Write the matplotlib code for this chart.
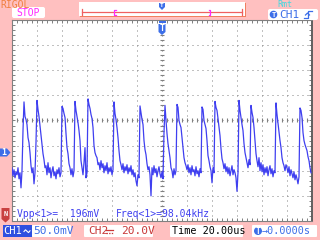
import numpy as np
import matplotlib
matplotlib.use("Agg")
import matplotlib.pyplot as plt
from matplotlib.patches import FancyBboxPatch, Polygon, Rectangle, Circle

plt.rcParams["lines.scale_dashes"] = False

# CH1 samples in mV, one per screen column (0.8 us apart)
ch1_mv = [
    -30, -46, -34, -50, -38, -44, -30, -52, -40, -70, -36,
    44, 101,
    72, 66, 56, 30, 20, 0, -26, -40, -30, -62, -40,
    20, 104,
    86, 72, 54, 36, 20, -2, -14, -30,
    -26, -44, -20, -40, -30, -50, -36, -28, -46, -38, -52, -34, -42, -30, -48, -40,
    92,
    88, 78, 70, 38, 10, -2, -22, -30, -44, -32, -48, -36,
    102,
    84, 72, 60, 44, 24, -16, -30, -44, -20, 10, -50, -40,
    107,
    96, 88, 76, 68, 50, 14, 0, -6, -10, -24,
    -20, -34, -16, -30, -22, -40, -26, -36, -20, -42, -30, -38, -28, -44, -34,
    101,
    78, 66, 50, 30, 4, -16, -24,
    -34, -22, -40, -28, -36, -24, -42, -30, -38, -26, -44, -34, -48, -40, -56, -66, -44, -50,
    93,
    80, 66, 56, 24, 6, -4, -22, -34, -28, -44,
    -86,
    -30, -44, -26, -40, -32, -48, -36, -28, -42, -50, -38, -52,
    40, 94,
    64, 38, 18, 4, -10, -30, -36, -50, -32, -44, -36,
    96, 90,
    64, 56, 50, 30, 8, -10, -20, -26, -34,
    -24, -40, -30, -44, -26, -38, -34, -46, -28, -42, -36, -48, -32, -40,
    91,
    86, 64, 56, 48, 24, -6, -16, -28, -36, -60, -30, -40,
    102,
    90, 84, 68, 50, 34, 8, -12, -20, -32,
    -22, -38, -28, -42, -30, -46, -36, -26, -44, -34, -40, -50, -77, -40,
    104,
    84, 70, 56, 44, 18, 0, -10, -20, -30, -14, -24,
    94,
    80, 70, 50, 24, -2, -16, -28, -10, -36, -20,
    -38, -24, -44, -30, -40, -28, -46, -34, -26, -42, -32, -48, -36, -40,
    99,
    76, 58, 40, 24, 10, -10, -20, -26, -36, -24,
    -30, -40, -28, -46, -34, -42, -50, -38, -54, -44, -52, -62, -48,
    89,
    84, 70, 40, 24, 16, 10, 4, -8, -16, -30, -40,
]
sample_us = 0.8
t0_us = -120.0
time_us = t0_us + sample_us * np.arange(len(ch1_mv))

time_div = 20.0      # us/div
volt_div = 50.0      # mV/div
screen_mid_mv = 64.0 # CH1 offset -> screen centre

vpp_text = "Vpp<1>=  196mV"
freq_text = "Freq<1>=98.04kHz"

pink = "#ffc0c0"
grey = "#808080"
blue = "#3f3ff0"
ui_blue = "#3c6ee8"
mono = "DejaVu Sans Mono"

fig = plt.figure(figsize=(3.2, 2.4), dpi=100, facecolor=pink)
ax = fig.add_axes([12 / 320, 1 - 221 / 240, 300 / 320, 201 / 240])
ax.set_facecolor("white")
ax.set_xlim(-6 * time_div, 6 * time_div)
ax.set_ylim(screen_mid_mv - 4 * volt_div, screen_mid_mv + 4 * volt_div)

# dotted graticule
dot = (0.72, 2.88)
for k in range(-5, 6):
    ax.axvline(k * time_div, color=grey, lw=0.7, dashes=dot)
for k in range(-3, 4):
    ax.axhline(screen_mid_mv + k * volt_div, color=grey, lw=0.7, dashes=dot)
# centre cross ticks
xs = np.arange(-6 * time_div, 6 * time_div + 0.1, time_div / 5)
ys = np.arange(screen_mid_mv - 4 * volt_div, screen_mid_mv + 4 * volt_div + 0.1, volt_div / 5)
ax.plot(xs, np.full(len(xs), screen_mid_mv), ls="none", marker="|", ms=3, mew=0.8, color=grey)
ax.plot(np.zeros(len(ys)), ys, ls="none", marker="_", ms=3, mew=0.8, color=grey)

ax.plot(time_us, ch1_mv, color=blue, lw=0.9, zorder=5)

ax.set_xticks(xs)
ax.set_yticks(ys)
ax.tick_params(which="both", direction="in", length=2, width=0.7, color=grey,
               top=True, right=True, labelbottom=False, labelleft=False)
for s in ax.spines.values():
    s.set_color(grey)
    s.set_linewidth(0.8)
ax.spines["right"].set_color("#606060")
ax.spines["right"].set_linewidth(1.4)

ax.text(5 / 300, 0.008, vpp_text, transform=ax.transAxes, family=mono,
        fontsize=7, color=blue, va="bottom", zorder=6)
ax.text((116 - 12) / 300, 0.008, freq_text, transform=ax.transAxes, family=mono,
        fontsize=7, color=blue, va="bottom", zorder=6)

# ---- screen furniture, in pixel coordinates ----
ui = fig.add_axes([0, 0, 1, 1], facecolor="none")
ui.set_xlim(0, 320)
ui.set_ylim(240, 0)
ui.axis("off")

def box(x, y, w, h, fc="white", r=2):
    ui.add_patch(FancyBboxPatch((x, y), w, h, boxstyle=f"round,pad=0,rounding_size={r}",
                                fc=fc, ec="none"))

ui.text(0, -0.5, "RIGOL", family=mono, fontsize=7, color="#f08040", va="top")
box(12, 7, 33, 11)
ui.text(28.5, 12.8, "STOP", family=mono, fontsize=7, color="#ff28ff", ha="center", va="center")

# memory / trigger position bar
ui.add_patch(Rectangle((80, 3), 166, 14, fc="#f08060", ec="none"))
ui.add_patch(Rectangle((79, 2), 166, 14, fc="white", ec="none"))
ui.plot([82, 242], [11.8, 11.8], color="#f06060", lw=0.9)
ui.plot([82, 82], [9, 15], color="#f06060", lw=0.9)
ui.plot([242, 242], [9, 15], color="#f06060", lw=0.9)
ui.plot([115.5, 114, 114, 115.5], [9.5, 9.5, 15, 15], color="#ff28ff", lw=0.9)
ui.plot([208.5, 210, 210, 208.5], [9.5, 9.5, 15, 15], color="#ff28ff", lw=0.9)
ui.add_patch(Polygon([(159, 3), (165, 3), (165, 7), (162, 10), (159, 7)], fc=ui_blue, ec="none"))
ui.text(162, 5.6, "T", family=mono, fontsize=4.5, color="white", ha="center", va="center",
        weight="bold")

# trigger position marker on graticule
ui.add_patch(Rectangle((158.5, 20.5), 7, 2, fc=ui_blue, ec="none"))
ui.add_patch(Polygon([(158.5, 24), (165.5, 24), (165.5, 32), (162, 35), (158.5, 32)],
                     fc=ui_blue, ec="none"))
ui.text(162, 28.5, "T", family=mono, fontsize=6, color="white", ha="center", va="center",
        weight="bold")

ui.text(285, 0.2, "Rmt", family=mono, fontsize=6, color="#40d8e0", ha="center", va="top")
box(268, 9, 50, 11)
ui.add_patch(Circle((273.5, 14.5), 3.8, fc=ui_blue, ec="none"))
ui.text(273.5, 14.6, "T", family=mono, fontsize=5, color="white", ha="center", va="center",
        weight="bold")
ui.text(279, 14.8, "CH1", family=mono, fontsize=8, color=ui_blue, va="center")
ui.plot([304, 307.5, 307.5, 312], [17.5, 17.5, 11, 11], color=ui_blue, lw=0.9)
ui.plot([305.5, 307.5, 309.5], [15, 13, 15], color=ui_blue, lw=0.9)

# CH1 ground marker
ui.add_patch(Polygon([(0, 148.5), (7, 148.5), (10.5, 152.5), (7, 156.5), (0, 156.5)],
                     fc=ui_blue, ec="none"))
ui.text(4, 152.8, "1", family=mono, fontsize=6, color="white", ha="center", va="center",
        weight="bold")

# red marker bottom left
ui.add_patch(Polygon([(1.5, 208), (9.5, 208), (9.5, 219), (5.5, 222.5), (1.5, 219)],
                     fc="#c84040", ec="none"))
ui.text(5.5, 214, "N", family=mono, fontsize=5, color="white", ha="center", va="center",
        weight="bold")

# bottom status line
ui.add_patch(Rectangle((3, 225), 29, 12, fc="#2f4fe0", ec="none"))
ui.text(3.5, 231.2, "CH1", family=mono, fontsize=7.5, color="white", va="center")
ui.plot([24, 25.5, 27, 28.5, 30], [231.5, 229.8, 231.2, 232.6, 230.8], color="white", lw=0.8)
box(32, 225, 39, 12, r=1)
ui.text(33, 231.2, "50.0mV", family=mono, fontsize=8, color=ui_blue, va="center")

box(84, 225, 69, 12, r=1)
ui.text(88, 231.2, "CH2", family=mono, fontsize=8, color="#c83838", va="center")
ui.plot([106, 113], [229.5, 229.5], color="#c83838", lw=0.9)
ui.plot([106, 113], [232.5, 232.5], color="#c83838", lw=0.9, dashes=(1.0, 0.9))
ui.text(121, 231.2, "20.0V", family=mono, fontsize=8, color="#c83838", va="center")

box(170, 225, 73, 12, r=1)
ui.text(172, 231.2, "Time 20.00us", family=mono, fontsize=7.3, color="black", va="center")

box(252, 225, 65, 12, r=1)
ui.add_patch(Circle((258, 231), 4, fc=ui_blue, ec="none"))
ui.text(258, 231.2, "T", family=mono, fontsize=5.5, color="white", ha="center", va="center",
        weight="bold")
ui.text(262, 231.2, "\u21920.0000s", family=mono, fontsize=7.3, color=ui_blue, va="center")

fig.savefig("out.png", dpi=100, facecolor=pink)
